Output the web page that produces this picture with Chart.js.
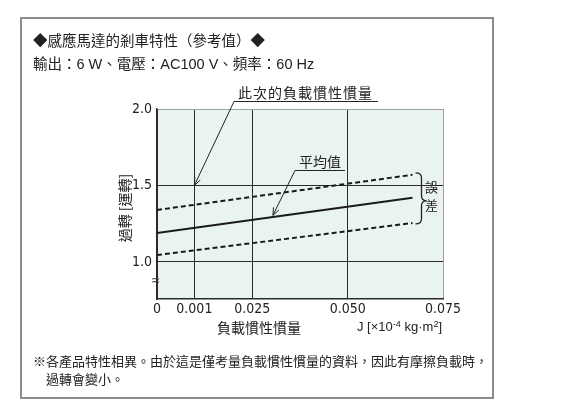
<!DOCTYPE html>
<html><head><meta charset="utf-8">
<script src="https://cdn.jsdelivr.net/npm/chart.js@4/dist/chart.umd.min.js"></script>
<style>
html,body{margin:0;padding:0;background:#fff;}
#wrap{position:relative;width:588px;height:418px;overflow:hidden;background:#fff;}
#box{position:absolute;left:20px;top:17px;width:474px;height:382px;border:2px solid #8c8c8c;box-sizing:border-box;}
#c{position:absolute;left:0;top:0;}
.t{position:absolute;white-space:nowrap;color:#222;font-family:"Liberation Sans","Noto Sans CJK TC",sans-serif;line-height:1;}
.cjk{font-family:"Noto Sans CJK TC","Liberation Sans",sans-serif;}
sup{font-size:0.7em;vertical-align:0;position:relative;top:-0.45em;}
</style></head>
<body><div id="wrap">
<div id="box"></div>
<canvas id="c" width="588" height="418"></canvas>
<div class="t" style="left:33px;top:34px;font-size:14.5px;">◆感應馬達的剎車特性（參考值）◆</div>
<div class="t" style="left:33px;top:57px;font-size:14.5px;">輸出：6 W、電壓：AC100 V、頻率：60 Hz</div>
<div class="t cjk" style="left:238px;top:85px;font-size:14px;letter-spacing:1px;">此次的負載慣性慣量</div>
<div class="t cjk" style="left:299px;top:154px;font-size:14px;">平均值</div>
<div class="t cjk" style="left:425px;top:180px;font-size:13px;">誤</div>
<div class="t cjk" style="left:425px;top:198px;font-size:13px;">差</div>
<div class="t cjk" style="left:90px;top:200px;width:70px;text-align:center;font-size:14px;transform:rotate(-90deg);transform-origin:35px 8px;">過轉 [運轉]</div>
<div class="t cjk" style="left:217px;top:320px;font-size:14px;">負載慣性慣量</div>
<div class="t" style="left:357px;top:320px;font-size:13px;">J [×10<sup>-4</sup> kg·m<sup>2</sup>]</div>
<div class="t" style="left:152px;top:273px;font-size:14px;color:#333;">≈</div>
<div class="t cjk" style="left:33px;top:354px;font-size:13px;">※各產品特性相異。由於這是僅考量負載慣性慣量的資料，因此有摩擦負載時，</div>
<div class="t cjk" style="left:46px;top:372px;font-size:13px;">過轉會變小。</div>
</div>
<script>
// Load inertia J [x10^-4 kg·m^2] at the two ends of each line
const jValues = [0, 0.067];
// Overrun [revolutions]
const meanOverrun  = [1.19, 1.42];
const upperOverrun = [1.34, 1.57];
const lowerOverrun = [1.045, 1.255];
// x tick labels and where they sit on the (broken) axis
const xTickLabels = ['0', '0.001', '0.025', '0.050', '0.075'];
const xTickAt = [0, 0.0098, 0.025, 0.050, 0.075];
// y ticks
const yTickValues = [1.0, 1.5, 2.0];

const pts = arr => arr.map((v, i) => ({x: jValues[i], y: v}));
const tickFont = {family: '"DejaVu Sans"', size: 14};

function arrow(ctx, x0, y0, x1, y1) {
  ctx.beginPath(); ctx.moveTo(x0, y0); ctx.lineTo(x1, y1); ctx.stroke();
  const a = Math.atan2(y1 - y0, x1 - x0), L = 8, w = 0.38;
  ctx.beginPath();
  ctx.moveTo(x1 - L * Math.cos(a - w), y1 - L * Math.sin(a - w));
  ctx.lineTo(x1, y1);
  ctx.lineTo(x1 - L * Math.cos(a + w), y1 - L * Math.sin(a + w));
  ctx.stroke();
}

const deco = {
  id: 'deco',
  beforeDraw(chart) {
    const {ctx, chartArea: a} = chart;
    ctx.save();
    ctx.fillStyle = '#e9f3f0';
    ctx.fillRect(a.left, a.top, a.right - a.left, a.bottom - a.top);
    ctx.restore();
    try { ctx.fontStretch = 'condensed'; } catch (e) {}
  },
  afterDatasetsDraw(chart) {
    const {ctx, scales: {x, y}} = chart;
    ctx.save();
    ctx.strokeStyle = '#222'; ctx.lineWidth = 1;
    // label underlines
    ctx.beginPath(); ctx.moveTo(234, 101.5); ctx.lineTo(378, 101.5); ctx.stroke();
    ctx.beginPath(); ctx.moveTo(295, 170.5); ctx.lineTo(345, 170.5); ctx.stroke();
    // arrows
    arrow(ctx, 234, 101.5, x.getPixelForValue(xTickAt[1]), y.getPixelForValue(1.5));
    arrow(ctx, 295, 170.5, x.getPixelForValue(0.0304), y.getPixelForValue(1.305));
    // brace
    const bx = x.getPixelForValue(jValues[1]) + 5;
    const yt = y.getPixelForValue(upperOverrun[1]) - 2, yb = y.getPixelForValue(lowerOverrun[1]) + 1;
    const ym = y.getPixelForValue(1.40);
    ctx.lineWidth = 1.3;
    ctx.beginPath();
    ctx.moveTo(bx - 2, yt);
    ctx.quadraticCurveTo(bx + 4, yt, bx + 4, yt + 5);
    ctx.lineTo(bx + 4, ym - 5);
    ctx.quadraticCurveTo(bx + 4, ym, bx + 9, ym);
    ctx.quadraticCurveTo(bx + 4, ym, bx + 4, ym + 5);
    ctx.lineTo(bx + 4, yb - 5);
    ctx.quadraticCurveTo(bx + 4, yb, bx - 2, yb);
    ctx.stroke();
    ctx.restore();
  }
};

new Chart(document.getElementById('c'), {
  type: 'line',
  data: {
    datasets: [
      {label: 'upper', data: pts(upperOverrun), borderColor: '#1a1a1a', borderWidth: 2, borderDash: [5, 3], pointRadius: 0},
      {label: 'mean', data: pts(meanOverrun), borderColor: '#1a1a1a', borderWidth: 2, pointRadius: 0},
      {label: 'lower', data: pts(lowerOverrun), borderColor: '#1a1a1a', borderWidth: 2, borderDash: [5, 3], pointRadius: 0}
    ]
  },
  options: {
    responsive: false,
    animation: false,
    devicePixelRatio: 1,
    layout: {padding: {left: 100, top: 109, right: 145, bottom: 79}},
    plugins: {legend: {display: false}, tooltip: {enabled: false}},
    scales: {
      x: {
        type: 'linear', min: 0, max: 0.075,
        afterBuildTicks: s => { s.ticks = xTickAt.map(v => ({value: v})); },
        afterFit: s => { s.height = 40; },
        ticks: {callback: (v, i) => xTickLabels[i], color: '#222', font: tickFont, padding: 2, maxRotation: 0, autoSkip: false},
        grid: {drawTicks: false, lineWidth: 1, color: c => (c.tick && c.tick.value === 0.075) ? '#a0a0a0' : '#2a2a2a'},
        border: {display: true, color: '#2a2a2a', width: 1.5}
      },
      y: {
        type: 'linear', min: 0.758, max: 2.0,
        afterBuildTicks: s => { s.ticks = yTickValues.map(v => ({value: v})); },
        afterFit: s => { s.width = 57; },
        ticks: {callback: v => v.toFixed(1), color: '#222', font: tickFont, padding: 5},
        grid: {drawTicks: false, lineWidth: 1, color: c => (c.tick && c.tick.value === 2.0) ? '#a0a0a0' : '#2a2a2a'},
        border: {display: true, color: '#2a2a2a', width: 1.5}
      }
    }
  },
  plugins: [deco]
});
</script>
</body></html>
